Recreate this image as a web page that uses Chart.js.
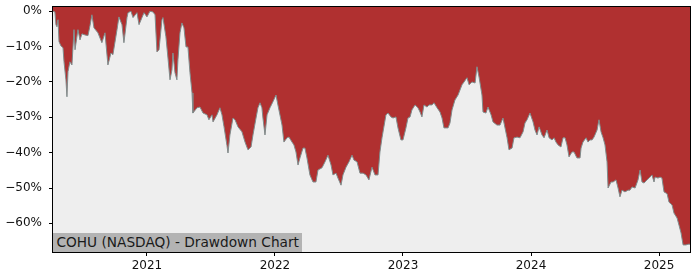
<!DOCTYPE html>
<html>
<head>
<meta charset="utf-8">
<script src="https://cdn.jsdelivr.net/npm/chart.js@4/dist/chart.umd.min.js"></script>
<style>
  html, body { margin: 0; padding: 0; background: #fff; }
  #wrap { position: relative; width: 700px; height: 280px; }
  #tag {
    position: absolute; left: 53px; top: 233px; height: 19px; line-height: 19px;
    padding: 0 3px 0 3.5px; background: #b3b3b3; color: #1a1a1a;
    font-family: 'DejaVu Sans', sans-serif; font-size: 13.7px; white-space: nowrap;
  }
</style>
</head>
<body>
<div id="wrap">
  <canvas id="chart" width="700" height="280"></canvas>
  <div id="tag">COHU (NASDAQ) - Drawdown Chart</div>
</div>
<script>
// Drawdown of COHU, dates as decimal years, values in percent below the running peak
const years = [
  2020.266, 2020.281, 2020.289, 2020.297, 2020.305, 2020.313, 2020.328, 2020.344, 2020.352, 2020.367,
  2020.375, 2020.383, 2020.398, 2020.414, 2020.430, 2020.438, 2020.461, 2020.477, 2020.492, 2020.516,
  2020.539, 2020.555, 2020.570, 2020.586, 2020.617, 2020.648, 2020.672, 2020.695, 2020.719, 2020.734,
  2020.766, 2020.781, 2020.805, 2020.820, 2020.844, 2020.852, 2020.875, 2020.891, 2020.922, 2020.938,
  2020.961, 2020.977, 2021.000, 2021.023, 2021.047, 2021.063, 2021.078, 2021.094, 2021.117, 2021.125,
  2021.148, 2021.164, 2021.180, 2021.195, 2021.203, 2021.219, 2021.234, 2021.242, 2021.258, 2021.273,
  2021.289, 2021.305, 2021.320, 2021.336, 2021.352, 2021.359, 2021.391, 2021.414, 2021.438, 2021.469,
  2021.484, 2021.508, 2021.516, 2021.547, 2021.570, 2021.586, 2021.602, 2021.625, 2021.633, 2021.648,
  2021.672, 2021.688, 2021.711, 2021.742, 2021.766, 2021.789, 2021.813, 2021.828, 2021.852, 2021.867,
  2021.883, 2021.898, 2021.906, 2021.922, 2021.938, 2021.961, 2021.984, 2022.008, 2022.023, 2022.055,
  2022.070, 2022.094, 2022.109, 2022.133, 2022.148, 2022.164, 2022.180, 2022.195, 2022.219, 2022.234,
  2022.250, 2022.273, 2022.297, 2022.320, 2022.336, 2022.367, 2022.391, 2022.414, 2022.438, 2022.453,
  2022.477, 2022.492, 2022.516, 2022.531, 2022.555, 2022.578, 2022.602, 2022.617, 2022.641, 2022.664,
  2022.688, 2022.711, 2022.734, 2022.758, 2022.781, 2022.805, 2022.820, 2022.836, 2022.867, 2022.883,
  2022.906, 2022.922, 2022.945, 2022.961, 2022.984, 2023.000, 2023.023, 2023.039, 2023.055, 2023.070,
  2023.094, 2023.117, 2023.133, 2023.148, 2023.164, 2023.188, 2023.203, 2023.227, 2023.242, 2023.266,
  2023.289, 2023.305, 2023.320, 2023.352, 2023.367, 2023.383, 2023.406, 2023.430, 2023.461, 2023.477,
  2023.500, 2023.516, 2023.539, 2023.563, 2023.578, 2023.594, 2023.617, 2023.625, 2023.648, 2023.664,
  2023.688, 2023.703, 2023.734, 2023.758, 2023.781, 2023.797, 2023.813, 2023.828, 2023.852, 2023.867,
  2023.891, 2023.914, 2023.938, 2023.953, 2023.969, 2023.992, 2024.016, 2024.031, 2024.047, 2024.063,
  2024.086, 2024.102, 2024.125, 2024.141, 2024.164, 2024.180, 2024.195, 2024.211, 2024.234, 2024.250,
  2024.266, 2024.281, 2024.297, 2024.320, 2024.336, 2024.359, 2024.383, 2024.391, 2024.406, 2024.430,
  2024.445, 2024.461, 2024.477, 2024.492, 2024.516, 2024.531, 2024.547, 2024.563, 2024.578, 2024.594,
  2024.602, 2024.625, 2024.641, 2024.664, 2024.680, 2024.695, 2024.711, 2024.734, 2024.758, 2024.773,
  2024.789, 2024.813, 2024.836, 2024.852, 2024.867, 2024.883, 2024.906, 2024.922, 2024.945, 2024.961,
  2024.969, 2024.992, 2025.008, 2025.023, 2025.039, 2025.063, 2025.078, 2025.102, 2025.117, 2025.141,
  2025.156, 2025.172, 2025.188, 2025.211, 2025.227, 2025.242
];
const drawdown = [
  0, -0.2, -3.8, -4.4, -2.4, -8.6, -9.8, -10.3, -14.3, -19.4,
  -24.2, -17.1, -14.3, -15.2, -5.2, -10.9, -5.2, -8.1, -6.4, -6.7,
  -6.9, -4.1, -1.0, -4.7, -6.1, -8.9, -6.1, -15.2, -11.8, -12.3,
  -5.2, -1.6, -3.8, -8.9, -1.8, -0.4, 0, -1.8, -0.4, -3.8,
  -1.8, -0.4, -1.6, 0, -0.2, -1.0, -11.5, -10.9, -2.4, -1.8,
  -7.2, -13.2, -19.4, -16.6, -11.8, -17.4, -19.4, -13.7, -6.1, -3.3,
  -4.7, -10.1, -10.1, -17.4, -23.1, -28.8, -27.3, -27.1, -28.8, -29.3,
  -30.7, -29.3, -31.3, -29.3, -27.3, -29.3, -32.7, -38.0, -40.1, -35.0,
  -30.2, -30.7, -32.7, -34.1, -37.0, -39.2, -38.4, -35.0, -30.2, -27.3,
  -25.9, -27.3, -30.2, -35.0, -29.3, -27.3, -25.6, -23.7, -26.5, -32.2,
  -37.0, -35.8, -35.6, -37.0, -37.8, -39.8, -43.5, -41.5, -38.7, -38.7,
  -41.5, -46.3, -48.3, -48.3, -44.9, -44.3, -42.6, -40.7, -43.5, -46.3,
  -45.8, -47.2, -49.2, -46.3, -44.1, -42.6, -40.7, -42.1, -42.6, -45.8,
  -45.8, -46.3, -47.7, -44.1, -46.3, -46.3, -39.8, -35.8, -29.3, -28.8,
  -29.9, -30.2, -29.9, -33.0, -36.4, -36.4, -33.0, -30.2, -29.9, -27.9,
  -26.5, -27.3, -28.5, -29.9, -26.5, -27.1, -26.5, -26.5, -25.9, -27.3,
  -28.5, -30.2, -33.0, -33.0, -31.6, -27.9, -25.1, -23.7, -20.8, -20.0,
  -18.8, -20.8, -20.0, -20.3, -15.7, -18.6, -23.7, -28.5, -28.8, -27.1,
  -29.3, -31.3, -32.2, -32.2, -30.2, -33.0, -35.8, -39.2, -38.7, -35.8,
  -35.6, -35.8, -34.1, -31.6, -30.7, -28.8, -31.3, -33.6, -35.0, -32.7,
  -35.0, -35.8, -33.6, -35.8, -36.4, -35.8, -37.0, -37.8, -38.4, -35.8,
  -35.8, -37.8, -41.2, -39.8, -39.8, -41.5, -41.5, -38.7, -37.0, -35.8,
  -37.0, -36.4, -36.4, -35.6, -33.6, -30.7, -34.1, -35.8, -37.8, -42.6,
  -50.0, -48.3, -48.3, -47.7, -50.0, -52.5, -50.6, -51.1, -50.6, -50.6,
  -49.7, -50.0, -47.7, -44.9, -48.3, -48.6, -47.7, -47.2, -46.3, -48.3,
  -46.9, -47.2, -46.9, -47.2, -51.1, -51.6, -54.0, -54.8, -57.1, -58.5,
  -60.5, -62.7, -66.1, -66.1, -65.9, -65.9
];
const yTicks = [0, -10, -20, -30, -40, -50, -60];
const xTicks = [2021, 2022, 2023, 2024, 2025];

const RED = '#b03030';
const PANEL = '#eeeeee';
const EDGE = '#808c8c';

// grey plot background and the black frame around it
const framePlugin = {
    id: 'frame',
    beforeDatasetsDraw(chart) {
        const { ctx, chartArea: a } = chart;
        ctx.save();
        ctx.fillStyle = PANEL;
        ctx.fillRect(a.left, a.top, a.right - a.left, a.bottom - a.top);
        ctx.restore();
    },
    afterDraw(chart) {
        const { ctx, chartArea: a } = chart;
        ctx.save();
        ctx.strokeStyle = '#000';
        ctx.lineWidth = 1;
        ctx.strokeRect(a.left - 0.5, a.top - 0.5, a.right - a.left + 1, a.bottom - a.top + 1);
        ctx.restore();
    }
};

new Chart(document.getElementById('chart'), {
    type: 'line',
    data: {
        datasets: [{
            data: years.map((x, i) => ({ x, y: drawdown[i] })),
            borderColor: EDGE,
            borderWidth: 1,
            backgroundColor: RED,
            fill: 'end',
            pointRadius: 0,
            tension: 0,
        }],
    },
    options: {
        responsive: false,
        animation: false,
        events: [],
        layout: { padding: { top: 7, right: 10, left: 0, bottom: 0 } },
        plugins: { legend: { display: false }, tooltip: { enabled: false } },
        scales: {
            x: {
                type: 'linear',
                min: years[0],
                max: years[years.length - 1],
                afterBuildTicks: s => { s.ticks = xTicks.map(v => ({ value: v })); },
                afterFit: s => { s.height = 28; s.paddingLeft = 0; s.paddingRight = 0; },
                border: { display: false },
                grid: { drawOnChartArea: false, drawTicks: true, tickLength: 4, tickColor: '#000' },
                ticks: {
                    color: '#111', padding: 3, maxRotation: 0,
                    font: { family: "'DejaVu Sans'", size: 12 },
                    callback: v => String(v),
                },
            },
            y: {
                min: -68.1,
                max: 1.2,
                afterBuildTicks: s => { s.ticks = yTicks.map(v => ({ value: v })); },
                afterFit: s => { s.width = 53; s.paddingTop = 0; s.paddingBottom = 0; },
                border: { display: false },
                grid: { drawOnChartArea: false, drawTicks: true, tickLength: 4, tickColor: '#000' },
                ticks: {
                    color: '#111', padding: 7,
                    font: { family: "'DejaVu Sans'", size: 12 },
                    callback: v => (v === 0 ? '0%' : '\u2212' + Math.abs(v) + '%'),
                },
            },
        },
    },
    plugins: [framePlugin],
});
</script>
</body>
</html>
